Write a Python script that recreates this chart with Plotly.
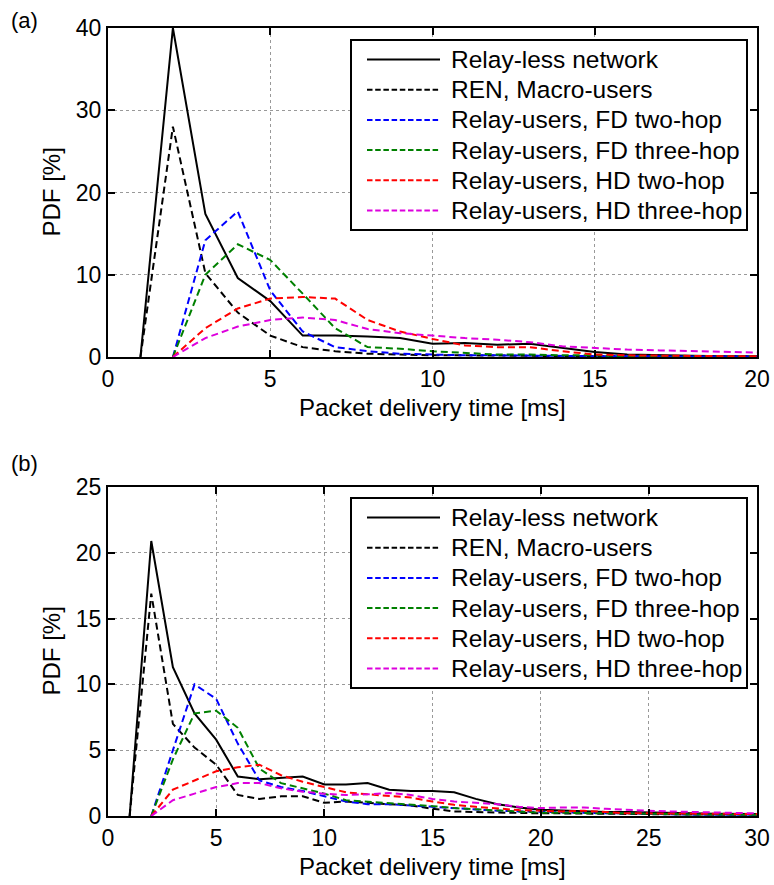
import plotly.graph_objects as go

# ---------------- data ----------------
names = ["Relay-less network", "REN, Macro-users", "Relay-users, FD two-hop",
         "Relay-users, FD three-hop", "Relay-users, HD two-hop", "Relay-users, HD three-hop"]
colors = ["#000000", "#000000", "#0000FF", "#008000", "#FF0000", "#DD00DD"]

# (a)
a_x_base = list(range(1, 21))
a_x_relay = list(range(2, 21))
a_relayless = [0, 40, 17.4, 9.6, 6.8, 2.6, 2.6, 2.5, 2.3, 1.6, 1.7, 1.5, 1.6, 1.1, 0.6, 0.3, 0.2, 0.15, 0.1, 0.1]
a_ren = [0, 28, 10.2, 5.4, 2.6, 1.2, 0.7, 0.4, 0.3, 0.2, 0.2, 0.2, 0.15, 0.1, 0.1, 0.1, 0.05, 0.05, 0.05, 0.05]
a_fd2 = [0, 14.2, 17.7, 8.1, 3.1, 1.2, 0.7, 0.4, 0.3, 0.2, 0.2, 0.15, 0.1, 0.1, 0.1, 0.05, 0.05, 0.05, 0.05]
a_fd3 = [0, 10.0, 13.7, 11.8, 7.7, 3.5, 1.2, 1.0, 0.7, 0.5, 0.3, 0.3, 0.2, 0.2, 0.1, 0.1, 0.1, 0.05, 0.05]
a_hd2 = [0, 3.5, 5.9, 7.1, 7.3, 7.1, 4.5, 3.1, 2.2, 1.4, 1.2, 1.2, 0.7, 0.3, 0.2, 0.15, 0.1, 0.1, 0.1]
a_hd3 = [0, 2.3, 3.7, 4.5, 4.8, 4.5, 3.4, 2.9, 2.6, 2.3, 2.1, 1.8, 1.3, 1.1, 0.9, 0.8, 0.7, 0.6, 0.55]

# (b)
b_x_base = list(range(1, 31))
b_x_relay = list(range(2, 31))
b_relayless = [0, 20.9, 11.3, 7.8, 5.8, 3.0, 2.8, 2.9, 3.0, 2.4, 2.4, 2.5, 2.0, 1.9, 1.9, 1.8, 1.3, 0.9,
               0.65, 0.47, 0.4, 0.35, 0.3, 0.3, 0.25, 0.22, 0.2, 0.18, 0.15, 0.15]
b_ren = [0, 16.9, 7.0, 5.2, 3.9, 1.6, 1.3, 1.5, 1.5, 1.0, 1.1, 1.0, 0.9, 0.8, 0.55, 0.35, 0.3, 0.25,
         0.2, 0.2, 0.2, 0.18, 0.15, 0.15, 0.12, 0.1, 0.1, 0.1, 0.1, 0.1]
b_fd2 = [0, 5.0, 10.0, 8.9, 5.5, 2.7, 2.2, 1.9, 1.5, 1.1, 0.9, 0.9, 0.8, 0.7, 0.55, 0.45, 0.4, 0.35,
         0.3, 0.25, 0.25, 0.2, 0.2, 0.15, 0.15, 0.1, 0.1, 0.1, 0.1]
b_fd3 = [0, 4.3, 7.8, 8.0, 6.7, 3.6, 2.5, 2.1, 1.7, 1.2, 1.1, 0.95, 0.85, 0.75, 0.6, 0.5, 0.4, 0.3,
         0.25, 0.25, 0.2, 0.2, 0.2, 0.15, 0.15, 0.12, 0.1, 0.1, 0.1]
b_hd2 = [0, 2.0, 2.7, 3.4, 3.7, 3.9, 3.1, 2.6, 2.2, 1.8, 1.65, 1.5, 1.4, 1.1, 0.85, 0.7, 0.55, 0.45,
         0.4, 0.35, 0.4, 0.3, 0.2, 0.2, 0.2, 0.18, 0.15, 0.15, 0.15]
b_hd3 = [0, 1.2, 1.7, 2.2, 2.5, 2.5, 2.1, 1.85, 1.7, 1.6, 1.65, 1.75, 1.6, 1.3, 1.1, 1.0, 0.9, 0.7,
         0.6, 0.65, 0.65, 0.55, 0.45, 0.4, 0.35, 0.3, 0.28, 0.25, 0.2]

a_xticks = [0, 5, 10, 15, 20]
a_yticks = [0, 10, 20, 30, 40]
b_xticks = [0, 5, 10, 15, 20, 25, 30]
b_yticks = [0, 5, 10, 15, 20, 25]
xlabel = "Packet delivery time [ms]"
ylabel = "PDF [%]"
panel_labels = ["(a)", "(b)"]

# ---------------- figure ----------------
FONT = "Liberation Sans, Arial, sans-serif"
DASH = "7px,4px"
LEG_DASH = "5.5px,2.7px"
W, H = 774, 885


def px_x(p):
    return p / W


def px_y(p):
    return 1 - p / H


fig = go.Figure()

panels = [
    ("x", "y", [a_x_base, a_x_base] + [a_x_relay] * 4,
     [a_relayless, a_ren, a_fd2, a_fd3, a_hd2, a_hd3]),
    ("x2", "y2", [b_x_base, b_x_base] + [b_x_relay] * 4,
     [b_relayless, b_ren, b_fd2, b_fd3, b_hd2, b_hd3]),
]
for xa, ya, xs, ys in panels:
    for i, (nm, c) in enumerate(zip(names, colors)):
        fig.add_trace(go.Scatter(
            x=xs[i], y=ys[i], mode="lines", name=nm, xaxis=xa, yaxis=ya,
            showlegend=False,
            line=dict(color=c, width=2, dash="solid" if i == 0 else DASH)))

axis_common = dict(
    showline=True, linecolor="black", linewidth=2, mirror="allticks",
    ticks="inside", ticklen=7, tickwidth=1.5, tickcolor="black",
    showgrid=True, gridcolor="#999999", griddash="dot", gridwidth=1,
    zeroline=False, automargin=False,
    tickfont=dict(family=FONT, size=23, color="black"),
)

shapes = []
annotations = []

# custom legend boxes (MATLAB style: long line samples)
for box_top in (40, 498):
    box_bottom = box_top + 190
    shapes.append(dict(type="rect", xref="paper", yref="paper",
                       x0=px_x(351), x1=px_x(747), y0=px_y(box_bottom), y1=px_y(box_top),
                       line=dict(color="black", width=2), fillcolor="white", layer="above"))
    for i, (nm, c) in enumerate(zip(names, colors)):
        yy = px_y(box_top + 19.5 + 30.2 * i)
        shapes.append(dict(type="line", xref="paper", yref="paper",
                           x0=px_x(367), x1=px_x(440), y0=yy, y1=yy,
                           line=dict(color=c, width=2, dash="solid" if i == 0 else LEG_DASH),
                           layer="above"))
        annotations.append(dict(text=nm, x=px_x(449), y=yy, xref="paper", yref="paper",
                                xanchor="left", yanchor="middle", showarrow=False,
                                font=dict(family=FONT, size=24.5, color="black")))

# panel labels
for lbl, ypix in zip(panel_labels, (20, 463)):
    annotations.append(dict(text=lbl, x=px_x(9), y=px_y(ypix), xref="paper", yref="paper",
                            xanchor="left", yanchor="middle", showarrow=False,
                            font=dict(family=FONT, size=22, color="black")))

# axis titles
for xc, yc in ((432, 407), (432, 866)):
    annotations.append(dict(text=xlabel, x=px_x(xc), y=px_y(yc), xref="paper", yref="paper",
                            xanchor="center", yanchor="middle", showarrow=False,
                            font=dict(family=FONT, size=24, color="black")))
for xc, yc in ((51, 192.5), (51, 651.5)):
    annotations.append(dict(text=ylabel, x=px_x(xc), y=px_y(yc), xref="paper", yref="paper",
                            xanchor="center", yanchor="middle", showarrow=False, textangle=-90,
                            font=dict(family=FONT, size=24, color="black")))

fig.update_layout(
    width=W, height=H, margin=dict(l=0, r=0, t=0, b=0, autoexpand=False),
    paper_bgcolor="white", plot_bgcolor="white",
    font=dict(family=FONT, color="black"),
    showlegend=False,
    xaxis=dict(domain=[px_x(108), px_x(757)], range=[0, 20], tickvals=a_xticks, anchor="y",
               **axis_common),
    yaxis=dict(domain=[px_y(357), px_y(28)], range=[0, 40], tickvals=a_yticks, anchor="x",
               **axis_common),
    xaxis2=dict(domain=[px_x(108), px_x(757)], range=[0, 30], tickvals=b_xticks, anchor="y2",
                **axis_common),
    yaxis2=dict(domain=[px_y(816), px_y(487)], range=[0, 25], tickvals=b_yticks, anchor="x2",
                **axis_common),
    shapes=shapes,
    annotations=annotations,
)

fig.write_html("out.html")
